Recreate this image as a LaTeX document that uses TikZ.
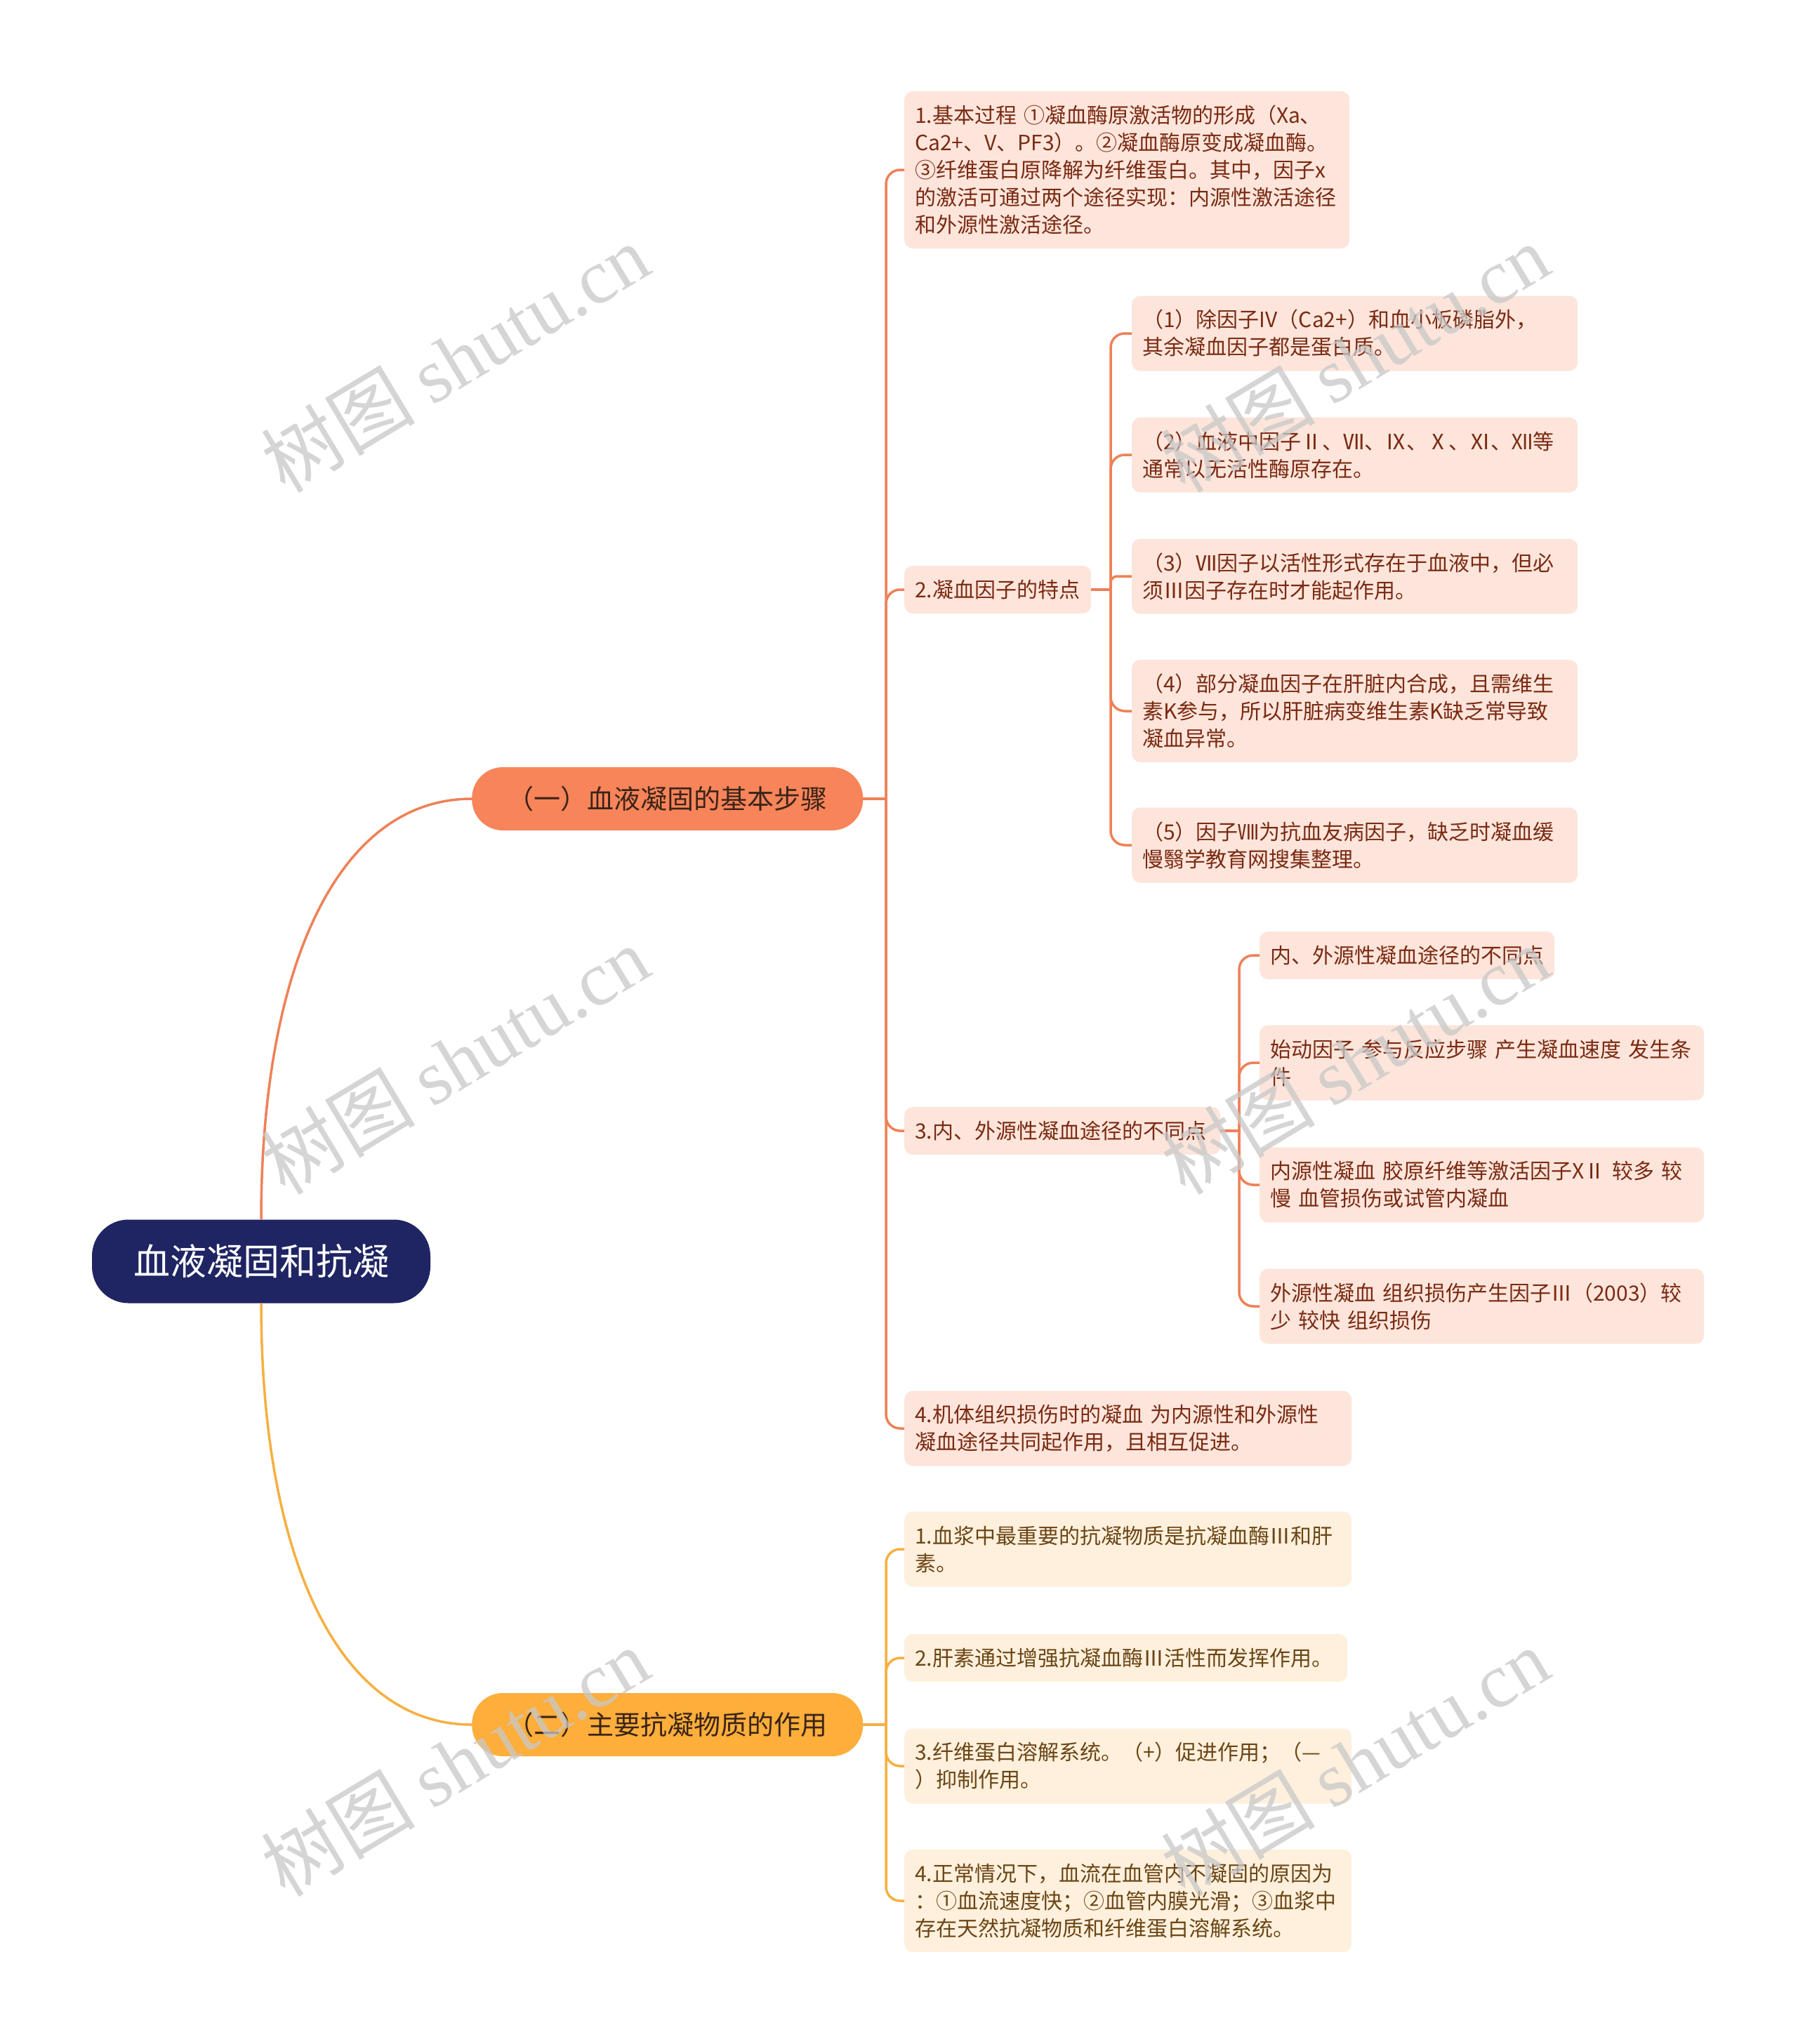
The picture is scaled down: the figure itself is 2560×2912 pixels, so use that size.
\documentclass[tikz,border=0pt]{standalone}
\usepackage{fontspec}
\setmainfont{Noto Sans CJK SC}
\newfontfamily\wmserif{Liberation Serif}
\definecolor{rootblue}{RGB}{31,36,99}
\definecolor{bAfill}{RGB}{248,132,90}
\definecolor{bBfill}{RGB}{253,174,59}
\definecolor{olinec}{RGB}{238,129,87}
\definecolor{ylinec}{RGB}{245,176,65}
\definecolor{cfill}{RGB}{253,229,219}
\definecolor{ctext}{RGB}{122,42,18}
\definecolor{dfill}{RGB}{254,240,220}
\definecolor{dtext}{RGB}{107,69,22}
\definecolor{btext}{RGB}{58,36,24}
\definecolor{wmgray}{RGB}{200,200,200}
\begin{document}
\begin{tikzpicture}[x=1pt,y=-1pt,
  oline/.style={draw=olinec,line width=3.5pt},
  yline/.style={draw=ylinec,line width=3.5pt},
  lv/.style={rounded corners=12pt,inner xsep=15pt,inner ysep=0pt,anchor=west,align=left,
     font=\fontsize{30}{39}\selectfont},
  lvA/.style={lv,fill=cfill,text=ctext},
  lvB/.style={lv,fill=dfill,text=dtext},
  branch/.style={rounded corners=44pt,inner sep=0pt,anchor=west,minimum width=557pt,
     minimum height=90pt,font=\fontsize{38}{44}\selectfont,text=btext},
  wm/.style={rotate=31,text=wmgray,opacity=0.75,font=\fontsize{110}{110}\selectfont}
]
\fill[white] (0,0) rectangle (2560,2912);
\useasboundingbox (0,0) rectangle (2560,2912);

% root and branches
\node[fill=rootblue,text=white,rounded corners=52pt,minimum width=482pt,minimum height=119pt,
  inner sep=0pt,font=\fontsize{52}{58}\selectfont] (root) at (372,1797) {血液凝固和抗凝};
\node[branch,fill=bAfill] (b1) at (672,1138) {（一）血液凝固的基本步骤};
\node[branch,fill=bBfill] (b2) at (672,2457) {（二）主要抗凝物质的作用};

% level 2, branch 1
\node[lvA,text width=604pt,minimum height=224pt] (c1) at (1288,242)
 {1.基本过程~①凝血酶原激活物的形成（Xa、\\Ca2+、V、PF3）。②凝血酶原变成凝血酶。\\③纤维蛋白原降解为纤维蛋白。其中，因子x\\的激活可通过两个途径实现：内源性激活途径\\和外源性激活途径。};
\node[lvA,text width=236pt,minimum height=68pt] (c2) at (1288,840) {2.凝血因子的特点};
\node[lvA,text width=420pt,minimum height=68pt] (c3) at (1288,1611) {3.内、外源性凝血途径的不同点};
\node[lvA,text width=607pt,minimum height=107pt] (c4) at (1288,2035)
 {4.机体组织损伤时的凝血~为内源性和外源性\\凝血途径共同起作用，且相互促进。};

% level 3 under c2
\node[lvA,text width=605pt,minimum height=107pt] (e1) at (1612,475)
 {（1）除因子IV（Ca2+）和血小板磷脂外，\\其余凝血因子都是蛋白质。};
\node[lvA,text width=605pt,minimum height=107pt] (e2) at (1612,648)
 {（2）血液中因子Ⅱ、Ⅶ、Ⅸ、Ⅹ、Ⅺ、Ⅻ等\\通常以无活性酶原存在。};
\node[lvA,text width=605pt,minimum height=107pt] (e3) at (1612,821)
 {（3）Ⅶ因子以活性形式存在于血液中，但必\\须Ⅲ因子存在时才能起作用。};
\node[lvA,text width=605pt,minimum height=146pt] (e4) at (1612,1013)
 {（4）部分凝血因子在肝脏内合成，且需维生\\素K参与，所以肝脏病变维生素K缺乏常导致\\凝血异常。};
\node[lvA,text width=605pt,minimum height=107pt] (e5) at (1612,1204)
 {（5）因子Ⅷ为抗血友病因子，缺乏时凝血缓\\慢翳学教育网搜集整理。};

% level 3 under c3
\node[lvA,text width=390pt,minimum height=68pt] (f1) at (1794,1361) {内、外源性凝血途径的不同点};
\node[lvA,text width=603pt,minimum height=107pt] (f2) at (1794,1514)
 {始动因子~参与反应步骤~产生凝血速度~发生条\\件};
\node[lvA,text width=603pt,minimum height=107pt] (f3) at (1794,1688)
 {内源性凝血~胶原纤维等激活因子XⅡ~较多~较\\慢~血管损伤或试管内凝血};
\node[lvA,text width=603pt,minimum height=107pt] (f4) at (1794,1861)
 {外源性凝血~组织损伤产生因子Ⅲ（2003）较\\少~较快~组织损伤};

% level 2, branch 2
\node[lvB,text width=607pt,minimum height=107pt] (d1) at (1288,2207)
 {1.血浆中最重要的抗凝物质是抗凝血酶Ⅲ和肝\\素。};
\node[lvB,text width=601pt,minimum height=68pt] (d2) at (1288,2362)
 {2.肝素通过增强抗凝血酶Ⅲ活性而发挥作用。};
\node[lvB,text width=607pt,minimum height=107pt] (d3) at (1288,2516)
 {3.纤维蛋白溶解系统。（+）促进作用；（—\\）抑制作用。};
\node[lvB,text width=607pt,minimum height=146pt] (d4) at (1288,2708)
 {4.正常情况下，血流在血管内不凝固的原因为\\：①血流速度快；②血管内膜光滑；③血浆中\\存在天然抗凝物质和纤维蛋白溶解系统。};

% connectors root -> branches
\draw[oline] (root.north) .. controls (372,1380) and (480,1138) .. (b1.west);
\draw[yline] (root.south) .. controls (372,2215) and (480,2457) .. (b2.west);

% branch 1 -> level 2
\coordinate (j1) at (1262,1138);
\draw[oline] (b1.east) -- (j1);
\foreach \c in {c1,c2,c3,c4} \draw[oline,rounded corners=20pt] (j1) |- (\c.west);

% c2 -> level 3
\coordinate (j3) at (1582,840);
\draw[oline] (c2.east) -- (j3);
\foreach \c in {e1,e2,e4,e5} \draw[oline,rounded corners=20pt] (j3) |- (\c.west);
\draw[oline,rounded corners=9pt] (j3) |- (e3.west);

% c3 -> level 3
\coordinate (j4) at (1765,1611);
\draw[oline] (c3.east) -- (j4);
\foreach \c in {f1,f2,f3,f4} \draw[oline,rounded corners=20pt] (j4) |- (\c.west);

% branch 2 -> level 2
\coordinate (j2) at (1262,2457);
\draw[yline] (b2.east) -- (j2);
\foreach \c in {d1,d2,d3,d4} \draw[yline,rounded corners=20pt] (j2) |- (\c.west);

% watermarks
\foreach \wx/\wy [count=\i] in {648/510,648/1510,648/2510,1930/510,1930/1510,1930/2510}
  \node[wm] (wm\i) at (\wx,\wy) {树图~{\wmserif shutu.cn}};
\end{tikzpicture}
\end{document}
